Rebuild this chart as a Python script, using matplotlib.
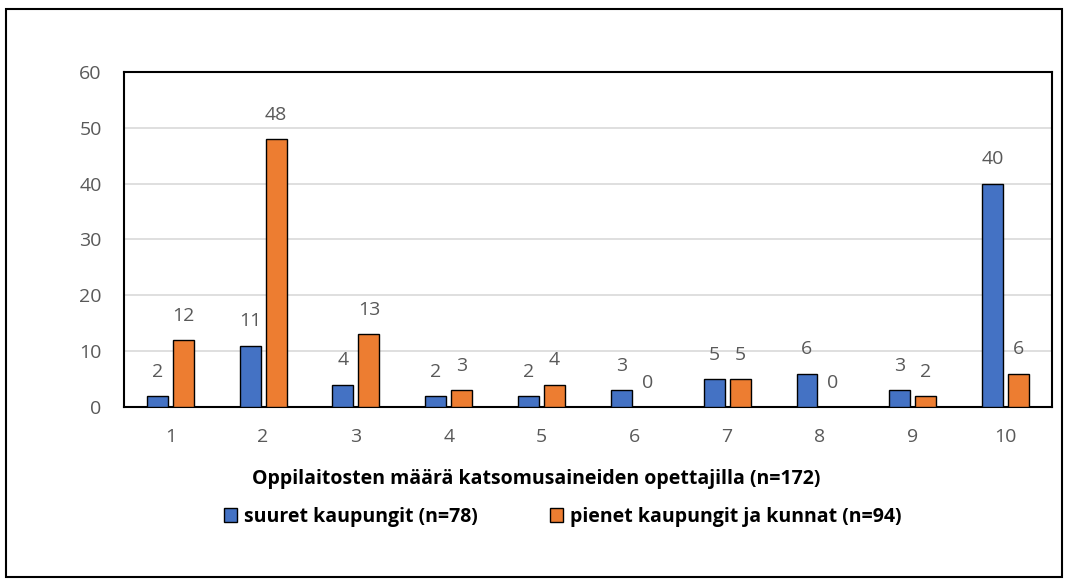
import matplotlib.pyplot as plt
import numpy as np
from matplotlib.patches import Rectangle

categories = ["1", "2", "3", "4", "5", "6", "7", "8", "9", "10"]
large = [2, 11, 4, 2, 2, 3, 5, 6, 3, 40]
small = [12, 48, 13, 3, 4, 0, 5, 0, 2, 6]
large_label = "suuret kaupungit (n=78)"
small_label = "pienet kaupungit ja kunnat (n=94)"
xlabel = "Oppilaitosten määrä katsomusaineiden opettajilla (n=172)"

BLUE = "#4472C4"
ORANGE = "#ED7D31"
GREY = "#595959"

plt.rcParams["font.family"] = ["Open Sans", "DejaVu Sans"]

fig = plt.figure(figsize=(10.68, 5.84), dpi=100)
ax = fig.add_axes([0.116, 0.303, 0.869, 0.574])

x = np.arange(len(categories))
w = 0.225
off = 0.14
b1 = ax.bar(x - off, large, w, color=BLUE, edgecolor="black", linewidth=1, label=large_label, zorder=3)
b2 = ax.bar(x + off, small, w, color=ORANGE, edgecolor="black", linewidth=1, label=small_label, zorder=3)
for bars in (b1, b2):
    ax.bar_label(bars, padding=11, color=GREY, fontsize=14)

ax.set_xlim(-0.5, len(categories) - 0.5)
ax.set_ylim(0, 60)
ax.set_yticks(range(0, 61, 10))
ax.set_xticks(x, categories)
ax.tick_params(length=0, labelcolor=GREY, labelsize=14)
ax.tick_params(axis="y", pad=16)
ax.tick_params(axis="x", pad=15)
ax.grid(axis="y", color="#D9D9D9", lw=1.2, zorder=0)
for s in ax.spines.values():
    s.set_linewidth(1.5)
    s.set_color("black")
ax.set_xlabel(xlabel, fontweight="bold", fontsize=14)
ax.xaxis.set_label_coords(0.444, -0.184)

leg = fig.legend(handles=[b1, b2], loc="center", bbox_to_anchor=(0.527, 0.115), ncol=2,
                 frameon=False, fontsize=14, handlelength=0.67, handleheight=0.7,
                 handletextpad=0.36, columnspacing=3.7)
for t in leg.get_texts():
    t.set_fontweight("bold")

fig.patches.append(Rectangle((0.006, 0.012), 0.988, 0.972, transform=fig.transFigure,
                             fill=False, edgecolor="black", lw=1.5))

fig.savefig("out.png", dpi=100, facecolor="white")
